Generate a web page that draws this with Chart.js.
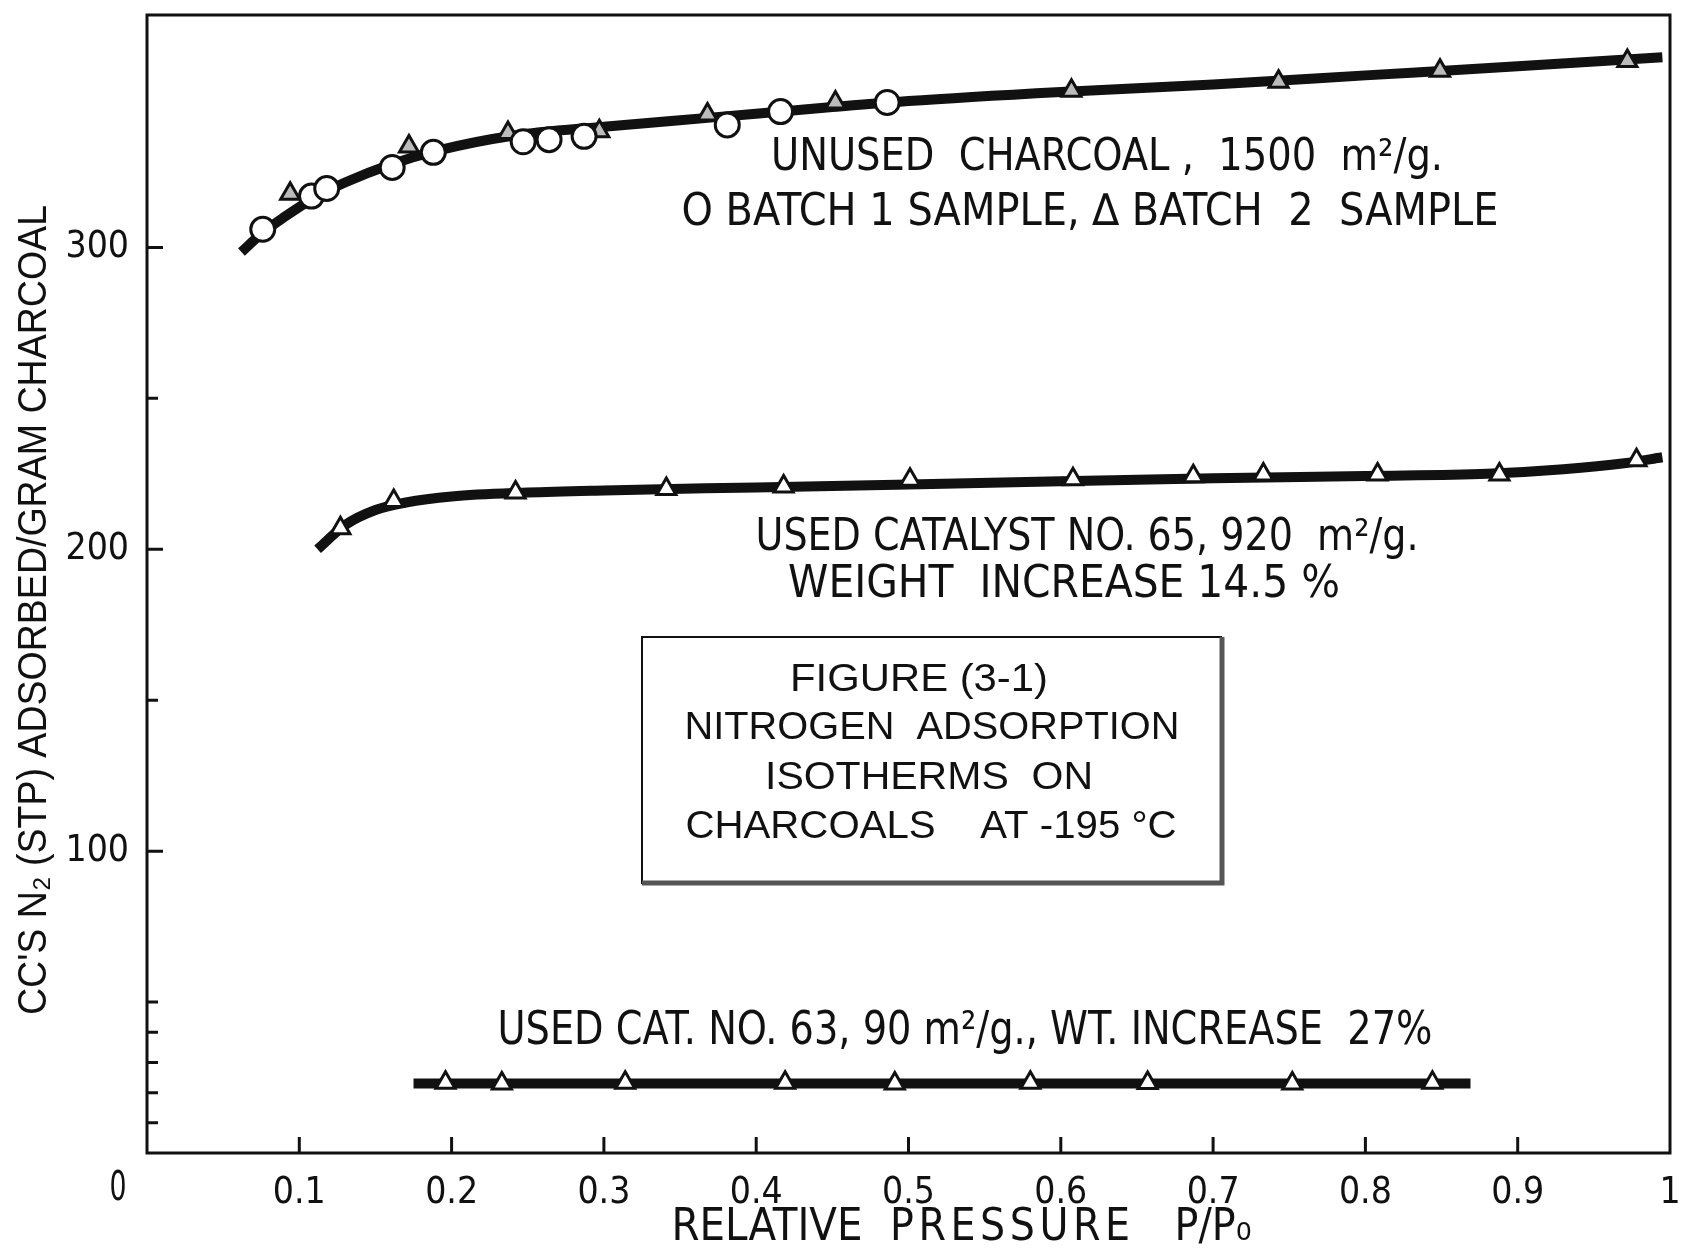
<!DOCTYPE html>
<html>
<head>
<meta charset="utf-8">
<script src="https://cdn.jsdelivr.net/npm/chart.js@4.4.0/dist/chart.umd.min.js"></script>
<style>
  body { margin: 0; background: #fff; }
  #wrap { width: 1685px; height: 1257px; position: relative; }
</style>
</head>
<body>
<div id="wrap"><canvas id="isoChart"></canvas></div>
<script>
// unused charcoal, 1500 m2/g - smooth curve
const unusedCurveX = [0.062, 0.075, 0.09, 0.11, 0.13, 0.16, 0.19, 0.24, 0.30, 0.37, 0.45, 0.50, 0.60, 0.70, 0.80, 0.90, 0.995];
const unusedCurveY = [298.5, 304.5, 310, 316.5, 321.5, 327.5, 332, 337, 340, 343, 346.5, 348.5, 351.5, 354, 357, 360, 363];
// batch 1 sample (circles)
const batch1X = [0.076, 0.108, 0.118, 0.161, 0.188, 0.247, 0.264, 0.287, 0.381, 0.416, 0.486];
const batch1Y = [306, 317, 319.5, 326.5, 331.5, 335, 335.7, 336.8, 340.6, 345, 348];
// batch 2 sample (triangles)
const batch2X = [0.094, 0.172, 0.237, 0.297, 0.368, 0.452, 0.607, 0.743, 0.849, 0.972];
const batch2Y = [317.8, 333.4, 337.9, 338.5, 344, 348, 351.9, 354.9, 358.5, 361.8];

// used catalyst no. 65, 920 m2/g
const cat65CurveX = [0.112, 0.13, 0.15, 0.17, 0.20, 0.25, 0.30, 0.40, 0.50, 0.60, 0.70, 0.80, 0.88, 0.93, 0.97, 0.995];
const cat65CurveY = [200, 208, 213, 215.5, 217.5, 218.8, 219.5, 220.5, 221.5, 222.5, 223.5, 224.3, 225, 226.5, 228.5, 230.5];
const cat65X = [0.127, 0.162, 0.242, 0.341, 0.418, 0.501, 0.608, 0.687, 0.733, 0.808, 0.888, 0.978];
const cat65Y = [207, 216, 218.8, 220, 220.8, 223, 223.2, 224.2, 224.8, 224.8, 224.8, 229.5];

// used cat. no. 63, 90 m2/g
const cat63CurveX = [0.175, 0.869];
const cat63CurveY = [23, 23];
const cat63X = [0.196, 0.233, 0.314, 0.419, 0.491, 0.580, 0.657, 0.752, 0.844];
const cat63Y = [23.3, 23, 23.3, 23.3, 23, 23.3, 23.2, 23, 23.3];

// axes
const xTickValues = [0.1, 0.2, 0.3, 0.4, 0.5, 0.6, 0.7, 0.8, 0.9, 1];
const xTickLabels = ['0.1', '0.2', '0.3', '0.4', '0.5', '0.6', '0.7', '0.8', '0.9', '1'];
const yLabelValues = [100, 200, 300];
const yMinorTicks = [10, 20, 30, 40, 50, 150, 250];
const xMax = 1, yMax = 377;

const INK = '#111';
const FONT = "'Liberation Sans Narrow', 'DejaVu Sans Condensed', 'Liberation Sans', sans-serif";
const WIDE = "'Liberation Sans', Arial, sans-serif";

function pts(xs, ys) {
    return xs.map((x, i) => ({ x: x, y: ys[i] }));
}

// draw text fitted to a given width: letter spacing when it must grow a lot, squeeze otherwise
function fitText(ctx, text, cx, cy, size, width, family) {
    ctx.save();
    ctx.font = size + 'px ' + (family || FONT);
    ctx.textBaseline = 'middle';
    ctx.fillStyle = INK;
    const w = ctx.measureText(text).width;
    const n = text.length;
    if (width / w > 1.12 && 'letterSpacing' in ctx && n > 1) {
        const extra = (width - w) / (n - 1);
        ctx.letterSpacing = extra + 'px';
        ctx.textAlign = 'left';
        ctx.fillText(text, cx - width / 2, cy);
    } else {
        ctx.translate(cx, cy);
        ctx.scale(width / w, 1);
        ctx.textAlign = 'center';
        ctx.fillText(text, 0, 0);
    }
    ctx.restore();
}

const figureDecor = {
    id: 'figureDecor',
    afterDraw(chart) {
        const ctx = chart.ctx;
        const a = chart.chartArea;
        const xs = chart.scales.x, ys = chart.scales.y;
        ctx.save();

        // frame
        ctx.strokeStyle = INK;
        ctx.lineWidth = 3;
        ctx.strokeRect(a.left, a.top, a.right - a.left, a.bottom - a.top);

        // inward ticks
        ctx.beginPath();
        xTickValues.slice(0, -1).forEach(v => {
            const px = xs.getPixelForValue(v);
            ctx.moveTo(px, a.bottom);
            ctx.lineTo(px, a.bottom - 16);
        });
        yLabelValues.forEach(v => {
            const py = ys.getPixelForValue(v);
            ctx.moveTo(a.left, py);
            ctx.lineTo(a.left + 16, py);
        });
        yMinorTicks.forEach(v => {
            const py = ys.getPixelForValue(v);
            ctx.moveTo(a.left, py);
            ctx.lineTo(a.left + 11, py);
        });
        ctx.stroke();

        // origin label
        fitText(ctx, '0', 118, 1190, 40, 17);

        // axis titles
        fitText(ctx, 'RELATIVE', 767, 1229, 44, 191);
        fitText(ctx, 'PRESSURE', 1010, 1229, 44, 240);
        fitText(ctx, 'P/P\u2080', 1213, 1229, 44, 77);
        ctx.save();
        ctx.translate(35, 610);
        ctx.rotate(-Math.PI / 2);
        fitText(ctx, "CC'S N\u2082 (STP) ADSORBED/GRAM CHARCOAL", 0, 0, 41, 810, WIDE);
        ctx.restore();

        // curve notes
        fitText(ctx, 'UNUSED  CHARCOAL ,  1500  m\u00b2/g.', 1107, 159, 44, 672);
        fitText(ctx, 'O BATCH 1 SAMPLE, \u2206 BATCH  2  SAMPLE', 1090, 214, 44, 817);
        fitText(ctx, 'USED CATALYST NO. 65, 920  m\u00b2/g.', 1087, 539, 44, 663);
        fitText(ctx, 'WEIGHT  INCREASE 14.5 %', 1064, 586, 44, 552);
        fitText(ctx, 'USED CAT. NO. 63, 90 m\u00b2/g., WT. INCREASE  27%', 965, 1032, 46, 935);

        // figure caption box
        ctx.strokeStyle = INK;
        ctx.lineWidth = 2;
        ctx.beginPath();
        ctx.moveTo(642, 884);
        ctx.lineTo(642, 637);
        ctx.lineTo(1222, 637);
        ctx.stroke();
        ctx.strokeStyle = '#555';
        ctx.lineWidth = 5;
        ctx.beginPath();
        ctx.moveTo(1222, 637);
        ctx.lineTo(1222, 883);
        ctx.lineTo(642, 883);
        ctx.stroke();
        fitText(ctx, 'FIGURE (3-1)', 919, 681, 38, 258, WIDE);
        fitText(ctx, 'NITROGEN  ADSORPTION', 932, 729, 38, 495, WIDE);
        fitText(ctx, 'ISOTHERMS  ON', 929, 779, 38, 328, WIDE);
        fitText(ctx, 'CHARCOALS    AT -195 \u00b0C', 931, 828, 38, 491, WIDE);

        ctx.restore();
    }
};

const lineStyle = {
    type: 'line',
    showLine: true,
    borderColor: INK,
    borderWidth: 10,
    pointRadius: 0,
    cubicInterpolationMode: 'monotone',
    order: 2
};

const ctx = document.getElementById('isoChart').getContext('2d');
new Chart(ctx, {
    type: 'scatter',
    data: {
        datasets: [
            { label: 'Batch 1', data: pts(batch1X, batch1Y), pointStyle: 'circle', pointRadius: 12,
              borderWidth: 3, borderColor: INK, backgroundColor: '#fff', order: 0 },
            { label: 'Batch 2', data: pts(batch2X, batch2Y), pointStyle: 'triangle', pointRadius: 11,
              borderWidth: 3, borderColor: INK, backgroundColor: '#bbb', order: 0 },
            { label: 'Cat 65', data: pts(cat65X, cat65Y), pointStyle: 'triangle', pointRadius: 11,
              borderWidth: 3, borderColor: INK, backgroundColor: '#fff', order: 0 },
            { label: 'Cat 63', data: pts(cat63X, cat63Y), pointStyle: 'triangle', pointRadius: 11,
              borderWidth: 3, borderColor: INK, backgroundColor: '#fff', order: 0 },
            Object.assign({ label: 'Unused curve', data: pts(unusedCurveX, unusedCurveY) }, lineStyle),
            Object.assign({ label: 'Cat 65 curve', data: pts(cat65CurveX, cat65CurveY) }, lineStyle),
            Object.assign({ label: 'Cat 63 curve', data: pts(cat63CurveX, cat63CurveY) }, lineStyle)
        ]
    },
    options: {
        responsive: true,
        maintainAspectRatio: false,
        animation: false,
        layout: { padding: { top: 12, right: 12, left: 0, bottom: 0 } },
        plugins: {
            legend: { display: false },
            tooltip: { enabled: false }
        },
        scales: {
            x: {
                type: 'linear',
                min: 0,
                max: xMax,
                afterFit: s => { s.height = 104; s.paddingLeft = 0; s.paddingRight = 0; },
                afterBuildTicks: s => { s.ticks = xTickValues.map(v => ({ value: v })); },
                grid: { display: false, drawTicks: false },
                border: { display: false },
                ticks: {
                    autoSkip: false,
                    maxRotation: 0,
                    padding: 18,
                    color: INK,
                    font: { family: FONT, size: 37 },
                    callback: (v, i) => xTickLabels[i]
                }
            },
            y: {
                type: 'linear',
                min: 0,
                max: yMax,
                afterFit: s => { s.width = 147; s.paddingTop = 0; s.paddingBottom = 0; },
                afterBuildTicks: s => { s.ticks = yLabelValues.map(v => ({ value: v })); },
                grid: { display: false, drawTicks: false },
                border: { display: false },
                ticks: {
                    autoSkip: false,
                    padding: 18,
                    color: INK,
                    font: { family: FONT, size: 37 },
                    callback: v => String(v)
                }
            }
        }
    },
    plugins: [figureDecor]
});
</script>
</body>
</html>
